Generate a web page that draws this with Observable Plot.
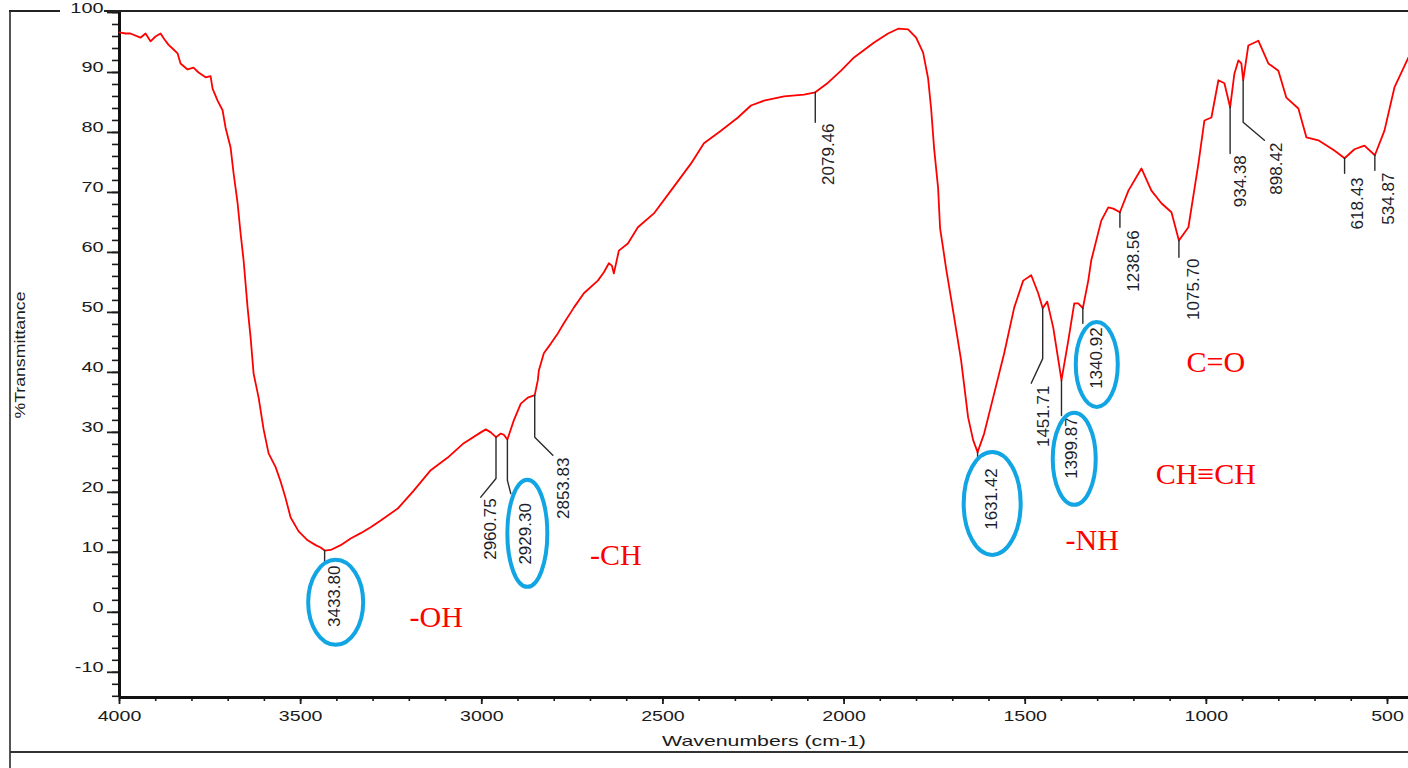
<!DOCTYPE html>
<html><head><meta charset="utf-8">
<script src="https://cdn.jsdelivr.net/npm/d3@7"></script>
<script src="https://cdn.jsdelivr.net/npm/@observablehq/plot@0.6"></script>
<style>
html,body{margin:0;padding:0;background:#fff;overflow:hidden}
#wrap{position:relative;width:1408px;height:768px}
#wrap svg{position:absolute;left:0;top:0;z-index:1}
.ln{position:absolute;z-index:2}
</style></head><body>
<div id="wrap">
<div class="ln" style="left:9px;top:10px;width:2px;height:758px;background:#555"></div>
<div class="ln" style="left:9px;top:10px;width:51px;height:2px;background:#222"></div>
<div class="ln" style="left:104px;top:10px;width:1304px;height:2px;background:#222"></div>
<div class="ln" style="left:10px;top:751px;width:1398px;height:2px;background:#333"></div>
</div>
<script>
// ---- spectrum (wavenumber cm-1, %T) ----
const wavenumber = [4000,3983.4,3970,3942.0,3928.2,3914.4,3900.6,3886.7,3875.7,3864.6,3853.6,3839.8,3831.5,3812.2,3795.6,3781.8,3762.4,3748.6,3743.1,3729.3,3715.5,3707.2,3693.4,3685.1,3674.0,3665.8,3657.5,3646.4,3638.1,3629.8,3616.0,3602.2,3588.4,3569.1,3555.3,3541.4,3527.6,3505.5,3480.7,3458.6,3444.8,3433.8,3417.1,3389.5,3361.9,3334.3,3306.6,3279.0,3232.0,3187.8,3140.9,3094.0,3049.7,3002.7,2988.9,2975.1,2960.75,2947.5,2939.2,2929.3,2911.6,2892.3,2873.0,2853.83,2845.3,2842.5,2828.7,2809.4,2790.1,2773.5,2745.9,2718.2,2679.6,2663.0,2649.2,2640.9,2635.4,2621.6,2596.7,2569.1,2524.9,2477.9,2422.7,2386.8,2339.8,2292.9,2257.0,2221.0,2165.8,2110.5,2079.46,2044.2,2008.3,1972.4,1917.1,1878.5,1850.8,1823.2,1801.1,1781.8,1768.0,1759.7,1751.4,1740.4,1734.9,1726.6,1718.3,1712.8,1696.2,1676.9,1657.6,1643.7,1631.42,1613.3,1585.6,1558.0,1530.4,1505.5,1483.4,1464.1,1451.71,1439.2,1422.7,1399.87,1381.1,1364.6,1353.6,1340.92,1325.9,1317.6,1290.0,1270.7,1256.9,1238.56,1215.1,1179.2,1151.6,1124.0,1096.3,1075.70,1049.5,1021.9,1005.3,986.0,966.7,950.1,934.38,922.6,911.6,903.3,898.42,884.1,856.5,828.9,801.2,779.1,746.0,723.9,690.8,646.6,618.43,591.2,563.6,534.87,508.4,480.8,442.1];
const transmittance = [96.7,96.5,96.5,95.8,96.5,95.2,96.0,96.5,95.5,94.6,94.0,93.2,91.5,90.5,90.8,90.0,89.2,89.4,87.3,85.3,83.7,80.8,77.5,73.2,68.2,63.2,58.7,50.8,45.8,39.8,35.8,30.5,26.5,24.2,21.8,19.0,15.8,13.5,12.0,11.2,10.8,10.3,10.4,11.2,12.3,13.2,14.2,15.3,17.3,20.3,23.7,25.8,28.2,30.0,30.5,30.0,29.2,29.8,29.6,28.8,32.0,34.8,35.8,36.2,38.7,40.3,43.2,44.8,46.5,48.2,50.8,53.2,55.3,56.7,58.2,57.8,56.5,60.3,61.5,64.2,66.5,70.3,74.8,78.2,80.3,82.5,84.5,85.3,86.0,86.3,86.7,88.3,90.3,92.5,95.0,96.5,97.3,97.2,95.8,93.3,89.0,84.0,77.3,70.7,64.0,60.7,57.3,55.3,49.2,42.0,32.5,28.7,26.7,29.8,36.5,43.2,50.8,55.3,56.2,53.2,50.7,51.8,47.5,38.7,45.3,51.5,51.5,50.7,55.3,58.7,65.3,67.5,67.3,66.7,70.3,74.0,70.3,68.2,66.7,62.0,64.2,74.8,82.0,82.5,88.7,88.2,84.2,89.8,92.0,91.5,88.7,94.5,95.3,91.5,90.3,85.8,84.0,79.2,78.7,77.0,75.7,77.2,77.8,76.2,80.3,87.5,92.5];

// ---- peak picks ----
const peakWn = [3433.80,2960.75,2929.30,2853.83,2079.46,1631.42,1451.71,1399.87,1340.92,1238.56,1075.70,934.38,898.42,618.43,534.87];
const peakT  = [10.3,29.2,28.8,36.2,86.7,26.7,50.7,38.7,50.7,66.7,62.0,84.2,88.7,75.7,76.2];
// leader geometry in data units
const stemEndT = [8.3,22.3,22.0,29.2,81.7,25.3,42.3,32.8,48.2,64.2,59.2,76.5,81.7,73.2,73.7];
const elbowWn  = [null,3002.8,2919.9,2803.9,null,null,1483.4,null,null,null,null,null,839.8,null,null];
const elbowT   = [null,19.2,19.8,26.2,null,null,38.2,null,null,null,null,null,78.7,null,null];
const labelWn  = [3406,2975.2,2878.5,2773.5,2044.2,1594,1450,1372.9,1303.9,1201.7,1036,906.2,806.7,582.9,497.3];
const labelTopT= [7.8,19.0,18.2,25.8,81.5,24.0,37.8,32.5,47.5,63.7,59.0,76.2,78.3,72.5,73.3];

// ---- highlighted picks (ellipses) ----
const ringWn = [3401.9,2872.9,1589.8,1363.3,1301.1];
const ringT  = [1.58,13.08,18.08,25.5,41.25];
const ringRx = [27.5,20,28.5,21.5,21];
const ringRy = [42.5,53.5,51.5,46,42.5];

// ---- functional-group notes ----
const groupText = ["-OH","-CH","-NH","CH\u2261CH","C=O"];
const groupWn = [3125.7,2629.8,1315,1001.5,973.8];
const groupT  = [-0.9,9.43,11.93,22.93,41.6];

// ---- axes ----
const xDomain = [4000, 442];
const yDomain = [-14.2, 100];
const xTickLabels = [4000,3500,3000,2500,2000,1500,1000,500];
const yTickLabels = [-10,0,10,20,30,40,50,60,70,80,90,100];
const xMinor = d3.range(4000, 449, -100);
const yMinor = d3.range(-14, 101, 2);
const xTitle = "Wavenumbers (cm-1)";
const yTitle = "%Transmittance";

const spectrum = wavenumber.map((w,i)=>({wn:w, t:transmittance[i]}));
const peaks = peakWn.map((w,i)=>({wn:w, t:peakT[i], lw:labelWn[i], lt:labelTopT[i]}));
const leaders = [];
peakWn.forEach((w,i)=>{
  leaders.push({id:i, wn:w, t:peakT[i]});
  leaders.push({id:i, wn:w, t:stemEndT[i]});
  if (elbowWn[i] != null) leaders.push({id:i, wn:elbowWn[i], t:elbowT[i]});
});
const groups = groupText.map((s,i)=>({s, wn:groupWn[i], t:groupT[i]}));
const rings = ringWn.map((w,i)=>({wn:w, t:ringT[i], rx:ringRx[i], ry:ringRy[i]}));
const fmt = d3.format(".2f");

const plot = Plot.plot({
  width: 1408, height: 768,
  marginLeft: 119, marginRight: 0, marginTop: 12, marginBottom: 71,
  style: {fontFamily: "'Liberation Sans', Arial, sans-serif", fontSize: "14px", color: "#1b1b1b", background: "transparent", overflow: "visible"},
  x: {domain: xDomain, label: null},
  y: {domain: yDomain, label: null},
  marks: [
    Plot.axisY(yMinor, {tickSize: 7, tickFormat: () => "", strokeWidth: 1.6, label: null}),
    Plot.axisY(yTickLabels, {tickSize: 12, tickPadding: 4, fontSize: 14, strokeWidth: 1.8, tickFormat: d => String(d), label: null}),
    Plot.axisX(xMinor, {tickSize: 4, tickFormat: () => "", strokeWidth: 1.6, label: null}),
    Plot.axisX(xTickLabels, {tickSize: 7, tickPadding: 16, fontSize: 14, strokeWidth: 1.8, tickFormat: d => String(d), label: null}),
    Plot.ruleX([xDomain[0]], {stroke: "#111", strokeWidth: 3}),
    Plot.ruleY([yDomain[0]], {stroke: "#111", strokeWidth: 3}),
    Plot.line(spectrum, {x: "wn", y: "t", stroke: "#ff0000", strokeWidth: 1.8}),
    Plot.line(leaders, {x: "wn", y: "t", z: "id", stroke: "#2a2a2a", strokeWidth: 1.4}),
    Plot.text(peaks, {x: "lw", y: "lt", text: d => fmt(d.wn), rotate: -90, textAnchor: "end", fontSize: 17, fill: "#1e1e2a"}),
    Plot.text(groups, {x: "wn", y: "t", text: "s", fill: "#ff0000", fontSize: 30, fontFamily: "'Liberation Serif', 'Times New Roman', serif"}),
    Plot.text([yTitle], {text: d => d, frameAnchor: "left", dx: -95, rotate: -90, textAnchor: "middle", lineAnchor: "middle", fontSize: 15}),
    Plot.text([xTitle], {text: d => d, frameAnchor: "bottom", dy: 48, textAnchor: "middle", lineAnchor: "middle", fontSize: 15})
  ]
});

const sx = plot.scale("x"), sy = plot.scale("y");
d3.select(plot).append("g").attr("fill", "none").attr("stroke", "#12a5e3").attr("stroke-width", 4)
  .selectAll("ellipse").data(rings).join("ellipse")
  .attr("cx", d => sx.apply(d.wn)).attr("cy", d => sy.apply(d.t))
  .attr("rx", d => d.rx).attr("ry", d => d.ry);

function stretchEl(t, s) {
  let tr = t.getAttribute("transform") || "";
  const x = t.getAttribute("x"), y = t.getAttribute("y");
  if (x != null || y != null) {
    tr = `translate(${+x||0},${+y||0}) ` + tr;
    t.removeAttribute("x"); t.removeAttribute("y");
  }
  t.setAttribute("transform", tr + ` scale(${s},1)`);
}
plot.querySelectorAll('g[aria-label="y-axis tick label"] text').forEach(t => stretchEl(t, 1.42));
plot.querySelectorAll('g[aria-label="x-axis tick label"] text').forEach(t => stretchEl(t, 1.4));
plot.querySelectorAll("text").forEach(t => {
  if (t.textContent === xTitle) stretchEl(t, 1.42);
  else if (t.textContent === yTitle) stretchEl(t, 1.18);
});

document.getElementById("wrap").appendChild(plot);
</script>
</body></html>
